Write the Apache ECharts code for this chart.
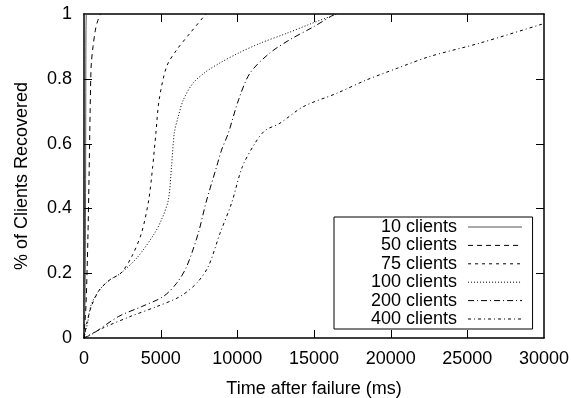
<!DOCTYPE html>
<html>
<head>
<meta charset="utf-8">
<script src="https://cdn.jsdelivr.net/npm/echarts@6/dist/echarts.min.js"></script>
<style>html,body{margin:0;padding:0;background:#fff}#c{width:571px;height:398px}</style>
</head>
<body>
<div id="c"></div>
<script>
// Data: [time after failure (ms), fraction of clients recovered]
const seriesNames = ['10 clients', '50 clients', '75 clients', '100 clients', '200 clients', '400 clients'];
const c10 = [[0,0],[60,0.1],[90,0.3],[110,0.6],[120,0.85],[130,0.95],[150,1]];
const c50 = [[0,0],[60,0.05],[130,0.1],[250,0.3],[330,0.5],[400,0.7],[440,0.8],[480,0.85],[590,0.9],[740,0.95],[900,0.98],[1090,1]];
const c75 = [[0,0],[200,0.05],[500,0.1],[1000,0.148],[1700,0.18],[2400,0.2],[3100,0.25],[3750,0.324],[4220,0.426],[4480,0.529],[4690,0.633],[4900,0.735],[5390,0.838],[6040,0.889],[6900,0.94],[7950,1]];
const c100 = [[0,0],[250,0.05],[450,0.1],[1000,0.148],[1700,0.18],[2400,0.2],[3500,0.25],[4600,0.323],[5100,0.37],[5500,0.426],[5710,0.529],[5890,0.633],[6150,0.684],[6480,0.735],[7100,0.786],[7900,0.82],[8900,0.85],[10100,0.88],[11500,0.91],[13200,0.94],[14800,0.97],[16500,1]];
const c200 = [[0,0],[600,0.014],[2240,0.066],[3760,0.097],[5170,0.128],[6040,0.169],[6690,0.22],[7450,0.323],[7950,0.417],[8650,0.529],[8970,0.58],[9410,0.632],[10080,0.735],[10820,0.817],[12100,0.879],[13400,0.92],[14950,0.96],[16360,1]];
const c400 = [[0,0],[1200,0.03],[3000,0.066],[4740,0.097],[6260,0.128],[7340,0.169],[8100,0.22],[8870,0.323],[9630,0.417],[10330,0.529],[11150,0.601],[11800,0.64],[12780,0.663],[14300,0.714],[16470,0.755],[18400,0.796],[20400,0.832],[22560,0.869],[25800,0.91],[29900,0.969],[30000,0.97]];
const seriesData = [c10, c50, c75, c100, c200, c400];
const xTicks = {min: 0, max: 30000, interval: 5000};
const yTicks = {min: 0, max: 1, interval: 0.2};

const dashes = ['solid', [5,4], [3,4], [1,2], [6,3,1,3], [3,3,1,3]];
const colors = ['#555', '#000', '#000', '#000', '#000', '#000'];
const FONT = 'Liberation Sans, Arial, sans-serif';
const TICK_LEN = 8;

const chart = echarts.init(document.getElementById('c'), null, {renderer: 'canvas'});
function axisLine() { return {show: true, onZero: false, lineStyle: {color: '#000', width: 1.5}}; }
chart.setOption({
  animation: false,
  backgroundColor: '#fff',
  textStyle: {fontFamily: FONT, color: '#000'},
  grid: {left: 84, right: 27, top: 14, bottom: 60, outerBoundsMode: 'none', containLabel: false},
  legend: {
    data: seriesNames,
    orient: 'vertical',
    align: 'right',
    left: 334,
    top: 217,
    padding: [1, 10, 1, 37],
    itemWidth: 54,
    itemHeight: 14,
    itemGap: 0.4,
    backgroundColor: '#fff',
    borderColor: '#000',
    borderWidth: 1,
    borderRadius: 0,
    itemStyle: {opacity: 0},
    lineStyle: {width: 1},
    textStyle: {fontFamily: FONT, fontSize: 18, color: '#000', lineHeight: 18, padding: [0, 6, 0, 0]},
    selectedMode: false,
    z: 10
  },
  xAxis: [
    {
      type: 'value', position: 'bottom', min: xTicks.min, max: xTicks.max, interval: xTicks.interval,
      name: 'Time after failure (ms)', nameLocation: 'middle', nameGap: 42,
      nameTextStyle: {fontFamily: FONT, fontSize: 18, color: '#000'},
      axisLine: axisLine(),
      axisTick: {show: false},
      splitLine: {show: false},
      axisLabel: {fontFamily: FONT, fontSize: 18, color: '#000', margin: 12, formatter: v => String(v)}
    },
    {
      type: 'value', position: 'top', min: xTicks.min, max: xTicks.max, interval: xTicks.interval,
      axisLine: axisLine(),
      axisTick: {show: false},
      splitLine: {show: false},
      axisLabel: {show: false}
    }
  ],
  yAxis: [
    {
      type: 'value', position: 'left', min: yTicks.min, max: yTicks.max, interval: yTicks.interval,
      name: '% of Clients Recovered', nameLocation: 'middle', nameGap: 53, nameRotate: 90,
      nameTextStyle: {fontFamily: FONT, fontSize: 18, color: '#000'},
      axisLine: axisLine(),
      axisTick: {show: false},
      splitLine: {show: false},
      axisLabel: {fontFamily: FONT, fontSize: 18, color: '#000', margin: 12}
    },
    {
      type: 'value', position: 'right', min: yTicks.min, max: yTicks.max, interval: yTicks.interval,
      axisLine: axisLine(),
      axisTick: {show: false},
      splitLine: {show: false},
      axisLabel: {show: false}
    }
  ],
  series: seriesNames.map((n, i) => ({
    name: n,
    type: 'line',
    data: seriesData[i],
    symbol: 'none',
    smooth: 0.3,
    xAxisIndex: 0,
    yAxisIndex: 0,
    color: colors[i],
    lineStyle: {color: colors[i], width: 1, type: dashes[i]},
    z: 2
  }))
});

// Inside tick marks on all four sides, placed through the axes' own scales.
const xLeft = chart.convertToPixel({xAxisIndex: 0}, xTicks.min);
const xRight = chart.convertToPixel({xAxisIndex: 0}, xTicks.max);
const yBottom = chart.convertToPixel({yAxisIndex: 0}, yTicks.min);
const yTop = chart.convertToPixel({yAxisIndex: 0}, yTicks.max);
const tickEls = [];
const tickStyle = {stroke: '#000', lineWidth: 1};
for (let v = xTicks.min + xTicks.interval; v < xTicks.max; v += xTicks.interval) {
  const px = Math.round(chart.convertToPixel({xAxisIndex: 0}, v)) + 0.5;
  tickEls.push({type: 'line', shape: {x1: px, y1: yBottom, x2: px, y2: yBottom - TICK_LEN}, style: tickStyle, silent: true, z: 5});
  tickEls.push({type: 'line', shape: {x1: px, y1: yTop, x2: px, y2: yTop + TICK_LEN}, style: tickStyle, silent: true, z: 5});
}
for (let k = 1; k * yTicks.interval < yTicks.max - 1e-9; k++) {
  const v = yTicks.min + k * yTicks.interval;
  const py = Math.round(chart.convertToPixel({yAxisIndex: 0}, v)) + 0.5;
  tickEls.push({type: 'line', shape: {x1: xLeft, y1: py, x2: xLeft + TICK_LEN, y2: py}, style: tickStyle, silent: true, z: 5});
  tickEls.push({type: 'line', shape: {x1: xRight, y1: py, x2: xRight - TICK_LEN, y2: py}, style: tickStyle, silent: true, z: 5});
}
chart.setOption({graphic: {elements: tickEls}});
</script>
</body>
</html>
